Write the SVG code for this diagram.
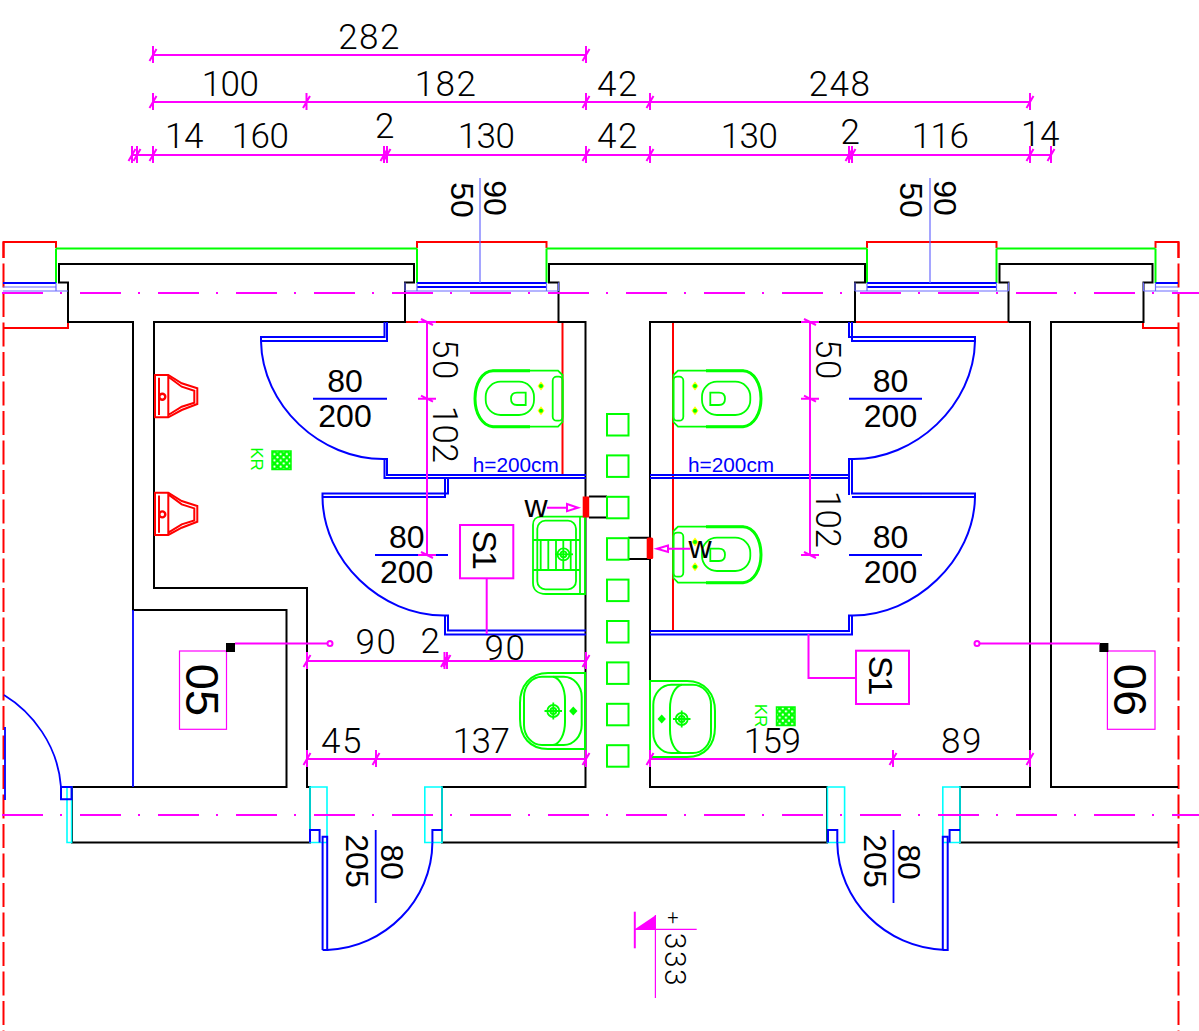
<svg xmlns="http://www.w3.org/2000/svg" width="1199" height="1031" viewBox="0 0 1199 1031">
<style>
.k{fill:none;stroke:#000;stroke-width:2}
.b{fill:none;stroke:#00f;stroke-width:2}
.b1{fill:none;stroke:#00f;stroke-width:1.8}
.bl{fill:none;stroke:#6a6aff;stroke-width:1.2}
.r{fill:none;stroke:#f00;stroke-width:2}
.rd{fill:none;stroke:#f00;stroke-width:2;stroke-dasharray:24 5.5;stroke-dashoffset:8}
.g{fill:none;stroke:#0f0;stroke-width:2}
.g1{fill:none;stroke:#0f0;stroke-width:1.8}
.c{fill:none;stroke:#0ff;stroke-width:1.6}
.m{fill:none;stroke:#f0f;stroke-width:2}
.m1{fill:none;stroke:#f0f;stroke-width:1.2}
.cl{fill:none;stroke:#f0f;stroke-width:2;stroke-dasharray:41 17 2 18}
.d{font-family:Roboto,"Liberation Sans",sans-serif;font-weight:300;font-size:35px;letter-spacing:1.5px;text-anchor:middle;fill:#000}
.o{letter-spacing:-0.5px}
.s{font-family:"Liberation Sans",Arial,sans-serif;font-size:32px;text-anchor:middle;fill:#000}
.h{font-family:"Liberation Sans",Arial,sans-serif;font-size:20.8px;fill:#00f}
.kr{font-family:"Liberation Sans",Arial,sans-serif;font-size:17px;text-anchor:middle;fill:#0f0}
</style>
<defs>
<path id="t" class="m" d="M0,-9V8M-3.5,6L3.5,-6"/>
<path id="th" class="m" d="M-9,0H9M-6,-3L6,3"/>
<pattern id="hp" width="6.2" height="6.2" patternUnits="userSpaceOnUse"><rect width="6.2" height="6.2" fill="#0f0"/><circle cx="1.6" cy="1.6" r="1.1" fill="#fff"/><circle cx="4.7" cy="4.7" r="1.1" fill="#fff"/></pattern>
<g id="wc">
<path class="g1" d="M558,370.7H493C482,371 475,384 475,398.7C475,413 482,426 493,426.7H558L562.5,422V375Z"/>
<path fill="none" stroke="#0f0" stroke-width="3" d="M530,370.7H493C482,371 475,384 475,398.7C475,413 482,426 493,426.7H530"/>
<rect class="g1" x="485.7" y="381.7" width="48.3" height="33.3" rx="15" ry="15"/>
<path class="g1" d="M525.7,392.7H517C513,392.7 511,395 511,398.8C511,402.6 513,405 517,405H525.7Z"/>
<rect class="g1" x="552.7" y="376.7" width="10" height="44" rx="4"/>
<path fill="#ff0" d="M541,381.5L544.5,386L541,390.5L537.5,386ZM541,406.2L544.5,410.7L541,415.2L537.5,410.7Z"/>
<circle cx="541" cy="386" r="2" fill="#0f0"/><circle cx="541" cy="410.7" r="2" fill="#0f0"/>
</g>
<g id="basin">
<path class="g" d="M585,673H548C530,673 520,686 520,703V719C520,737 530,749 548,749H585Z"/>
<rect class="g" x="524" y="676.7" width="57.7" height="68.3" rx="18" ry="20"/>
<path class="g" d="M553,676.7C560,678 565,688 565,700V722C565,734 560,744 553,745"/>
<circle class="g1" cx="553.3" cy="711" r="6"/><circle class="g1" cx="553.3" cy="711" r="3"/>
<path class="g1" d="M544.5,711H562M553.3,702.5V719.5"/>
<path fill="#0f0" d="M573.3,706.5L577.5,711L573.3,715.5L569.1,711Z"/>
</g>
<g id="ur">
<path class="r" d="M155,375H168.3L181.7,383.3L197.3,388.3V404L181.7,410L168.3,417.3H155Z"/>
<path class="r" d="M168.3,376.7L181.7,386.7L194.3,390.7V402.7L181.7,406.7L168.3,415M168.3,375V417.3"/>
<path class="r" d="M159,377.7V415"/>
<circle cx="162.3" cy="396.7" r="3" fill="none" stroke="#f00" stroke-width="2.4"/>
</g>
</defs>

<g id="frame">
<path class="rd" d="M3.5,242V1031"/>
<path class="rd" d="M1178.5,242V1031"/>
<path class="r" d="M3.5,258V242H56V248M3.5,328H68V322M417,248V242H546.5V248M867,248V242H996.5V248M1155.5,248V242H1178.5V258M1143,322V328H1178.5"/>
<path class="r" d="M405,322H558.5M855,322H1008.5M562.5,322V475M673,322V630"/>
<path class="g" d="M56,248.5H417M546.5,248.5H867M996.5,248.5H1155.5M56,248.5V283M417,248.5V283M546.5,248.5V283M867,248.5V283M996.5,248.5V283M1155.5,248.5V283"/>
</g>

<g id="walls">
<path class="k" d="M154,322H405V282.5H414V264H59V282.5H68V322H133V610H286.5V787H72V842.5H310V787H307V588H154Z"/>
<path class="k" d="M558.5,322H585.5V787H442V842.5H827V787H650V322H855V282.5H865V264H549V282.5H558.5Z"/>
<path class="k" d="M1008.5,322H1030V787H960V842.5H1178M1008.5,322V282.5H999.5V264H1152.5V282.5H1143.5V322H1051V787H1178"/>
<path class="k" d="M589,496.5H607M589,517.5H607M628,537.7H650M628,559H650"/>
<path class="b1" d="M133,610V787"/>
</g>

<g id="windows">
<path class="b" d="M417,283H546.5M867,283H996.5M3,283H56M1155.5,283H1178"/>
<path class="b1" d="M417,287H546.5M867,287H996.5"/>
<path class="bl" d="M405,291H558.5M855,291H1008.5M3,291H68M1143.5,291H1178M3,287H56M1155.5,287H1178M417,283V291M546.5,283V291M867,283V291M996.5,283V291M56,283V291M1155.5,283V291M405,282.5V291M558.5,282.5V291M855,282.5V291M1008.5,282.5V291M1143.5,282.5V291"/>
<path class="bl" d="M480,178V283M930,178V283"/>
</g>

<g id="partitions">
<path class="b" d="M387,322V341H262M384.5,322V337H261V341C262,405 320,460 385,459H387V475H586M384.5,459V478H586M448,478V493.5H322.5V497H445V478M322.5,497C323,560 380,616 445,615.5H448V630.5H586M445,615.5V634.5H586"/>
<path class="b" d="M849,322V337H975V341H852V322M975,341C974,405 915,460 852,459H849V475H650M852,459V493.5H975V497H852M849,475V478H650M849,478V495M975,497C974,560 915,616 852,615.5H849V631H650M852,615.5V634.5H650"/>
<path class="b" d="M313,398.7H387M375,555H448M849,398.7H922M849,555H922"/>
<path class="b1" d="M375.7,830V903M893.5,830V903"/>
</g>

<g id="doors">
<path class="c" d="M67,787H71.6V842.5H67ZM310,787H327V842.5H310ZM424.8,787H442V842.5H424.8ZM827.4,787H844.6V842.5H827.4ZM942.8,787H960V842.5H942.8Z"/>
<path class="b" d="M61,787V799.3H71.6V787H61ZM310,842.5V830H319.6V842.5M432.4,842.5V830H442M828,842.5V830H837.3V842.5M949.6,842.5V830H960"/>
<path class="b" d="M322.6,950V836.7H327.2V950H322.6M942.8,950V836.7H947.7V950H942.8"/>
<path class="b" d="M327.2,950C385,948 432,900 432.4,842.5M837.3,842.5C838,900 885,948 945,950"/>
<path class="b1" d="M4,695C32,712 58,745 61,787M5,727V800"/>
</g>

<g id="fixtures">
<use href="#wc"/>
<use href="#wc" transform="matrix(-1 0 0 1 1236 0)"/>
<use href="#wc" transform="matrix(-1 0 0 1 1236 156)"/>
<use href="#basin"/>
<use href="#basin" transform="matrix(-1 0 0 1 1235 8)"/>
<use href="#ur"/>
<use href="#ur" transform="translate(0 117.7)"/>
<g id="sink">
<path class="g1" d="M585,516.7H541C536,516.7 533,520 533,525V583C533,590 538,594 546,594H585ZM580,516.7V594"/>
<rect class="g1" x="537.3" y="520.7" width="38.7" height="68.6" rx="8"/>
<path class="g1" d="M533,540H580M533,570H580M540.7,540V570M548.3,540V570M556,540V570M563.3,540V570M570.7,540V570"/>
<circle class="g1" cx="563.5" cy="554.3" r="6"/><circle class="g1" cx="563.5" cy="554.3" r="3"/>
<path class="g1" d="M555,554.3H573"/>
</g>
<g id="squares">
<rect class="g" x="607" y="414" width="21.5" height="21.5"/>
<rect class="g" x="607" y="455.4" width="21.5" height="21.5"/>
<rect class="g" x="607" y="496.8" width="21.5" height="21.5"/>
<rect class="g" x="607" y="538.2" width="21.5" height="21.5"/>
<rect class="g" x="607" y="579.6" width="21.5" height="21.5"/>
<rect class="g" x="607" y="621" width="21.5" height="21.5"/>
<rect class="g" x="607" y="662.4" width="21.5" height="21.5"/>
<rect class="g" x="607" y="703.8" width="21.5" height="21.5"/>
<rect class="g" x="607" y="745.2" width="21.5" height="21.5"/>
</g>
<rect x="582.7" y="496.5" width="6.5" height="21" fill="#f00"/>
<rect x="646.7" y="537.5" width="6.5" height="21.5" rx="1.5" fill="#f00"/>
<rect x="272" y="451" width="19" height="18.5" fill="url(#hp)" stroke="#0f0" stroke-width="1.5"/>
<rect x="776.5" y="707" width="18.5" height="18.5" fill="url(#hp)" stroke="#0f0" stroke-width="1.5"/>
<text class="kr" transform="translate(251 459) rotate(90)">KR</text>
<text class="kr" transform="translate(754.5 715.5) rotate(90)">KR</text>
</g>

<g id="dimensions">
<path class="cl" d="M2,293H1199"/>
<path class="cl" d="M2,815H1199"/>
<path class="m" d="M153,55H586M153,102H1030M131,155H1051M427,322V555M810,322V555M307,661H586M307,759H586M650,759H1030"/>
<use href="#t" x="153" y="55"/><use href="#t" x="586" y="55"/>
<use href="#t" x="153" y="102"/><use href="#t" x="306.5" y="102"/><use href="#t" x="586" y="102"/><use href="#t" x="650" y="102"/><use href="#t" x="1030" y="102"/>
<use href="#t" x="132" y="155"/><use href="#t" x="137" y="155"/><use href="#t" x="153" y="155"/><use href="#t" x="384" y="155"/><use href="#t" x="387" y="155"/><use href="#t" x="586" y="155"/><use href="#t" x="650" y="155"/><use href="#t" x="849" y="155"/><use href="#t" x="852" y="155"/><use href="#t" x="1030" y="155"/><use href="#t" x="1051" y="155"/>
<use href="#t" x="307" y="661"/><use href="#t" x="444.5" y="661"/><use href="#t" x="447" y="661"/><use href="#t" x="586" y="661"/>
<use href="#t" x="307" y="759"/><use href="#t" x="376" y="759"/><use href="#t" x="586" y="759"/>
<use href="#t" x="650" y="759"/><use href="#t" x="893" y="759"/><use href="#t" x="1030" y="759"/>
<use href="#th" x="427" y="322"/><use href="#th" x="427" y="398.7"/><use href="#th" x="427" y="555"/>
<use href="#th" x="810" y="322"/><use href="#th" x="810" y="398.7"/><use href="#th" x="810" y="555"/>
<text class="d" x="369.5" y="48.5">282</text>
<text class="d o" x="230" y="96">100</text>
<text class="d" x="446" y="96">182</text>
<text class="d" x="618" y="96">42</text>
<text class="d" x="840" y="96">248</text>
<text class="d o" x="184" y="148">14</text>
<text class="d o" x="260" y="148">160</text>
<text class="d" x="385.5" y="138">2</text>
<text class="d o" x="486" y="148">130</text>
<text class="d" x="618" y="148">42</text>
<text class="d o" x="749" y="148">130</text>
<text class="d" x="851" y="144">2</text>
<text class="d o" x="940" y="148">116</text>
<text class="d o" x="1040" y="145.5">14</text>
<text class="d" x="376.5" y="654">90</text>
<text class="d" x="431" y="653">2</text>
<text class="d" x="505.5" y="660">90</text>
<text class="d" x="342" y="752.5">45</text>
<text class="d o" x="481" y="752.5">137</text>
<text class="d o" x="772" y="752.5">159</text>
<text class="d" x="962" y="752.5">89</text>
<text class="d" transform="translate(433 360) rotate(90)">50</text>
<text class="d o" transform="translate(433 434) rotate(90)">102</text>
<text class="d" transform="translate(816 360) rotate(90)">50</text>
<text class="d o" transform="translate(816 519) rotate(90)">102</text>
<text class="s" transform="translate(451 200) rotate(90)">50</text>
<text class="s" transform="translate(484 198) rotate(90)">90</text>
<text class="s" transform="translate(900 200) rotate(90)">50</text>
<text class="s" transform="translate(934 198) rotate(90)">90</text>
<text class="s" x="345" y="392">80</text>
<text class="s" x="345" y="426.7">200</text>
<text class="s" x="406.7" y="548">80</text>
<text class="s" x="406.7" y="582.7">200</text>
<text class="s" x="890.5" y="392">80</text>
<text class="s" x="890.5" y="426.7">200</text>
<text class="s" x="890.5" y="548">80</text>
<text class="s" x="890.5" y="582.7">200</text>
<text class="s" transform="translate(381 862) rotate(90)">80</text>
<text class="s" transform="translate(346 861) rotate(90)">205</text>
<text class="s" transform="translate(898 862) rotate(90)">80</text>
<text class="s" transform="translate(864 861) rotate(90)">205</text>
<text class="h" x="472.7" y="471.7">h=200cm</text>
<text class="h" x="688" y="472">h=200cm</text>
</g>

<g id="tags">
<rect class="m1" x="179.5" y="651" width="47" height="78.3"/>
<rect class="m1" x="1107.4" y="651" width="47.6" height="78.3"/>
<text class="s" style="font-size:47px" transform="translate(186 690) rotate(90)">05</text>
<text class="s" style="font-size:47px" transform="translate(1114 690) rotate(90)">06</text>
<rect x="226" y="643" width="9" height="9" fill="#000"/>
<rect x="1099.4" y="643" width="9" height="9" fill="#000"/>
<path class="m" d="M235,643.5H327M980,643.5H1100"/>
<circle class="m" cx="330" cy="643.5" r="2.5"/>
<circle class="m" cx="977" cy="643.5" r="2.5"/>
<rect class="m" x="460" y="525" width="53.3" height="53.3"/>
<path class="m" d="M486.7,578.3V634"/>
<text class="s" style="font-size:34px;letter-spacing:-2px" transform="translate(473 549) rotate(90)">S1</text>
<rect class="m" x="856" y="650.7" width="53" height="53.3"/>
<path class="m" d="M808.5,634V678H856"/>
<text class="s" style="font-size:34px;letter-spacing:-2px" transform="translate(869 674.5) rotate(90)">S1</text>
<text class="s" x="536" y="517">w</text>
<text class="s" x="700" y="558">w</text>
<path class="m" d="M547,507.7H567M567,504L578,507.7L567,511.2ZM690,548.7H668M668,545.5L657,548.7L668,552Z"/>
</g>

<g id="level">
<path class="m" d="M634.8,911.7V948.3"/>
<path fill="#f0f" d="M634.8,929.3L656,915V929.3Z"/>
<path class="m1" d="M634.8,929.3H696.7M655.4,915V998"/>
<text class="d" style="font-size:20px;letter-spacing:0" x="672.8" y="924">+</text>
<text class="d" transform="translate(665 960) rotate(90)" style="font-size:30px">333</text>
</g>
</svg>
